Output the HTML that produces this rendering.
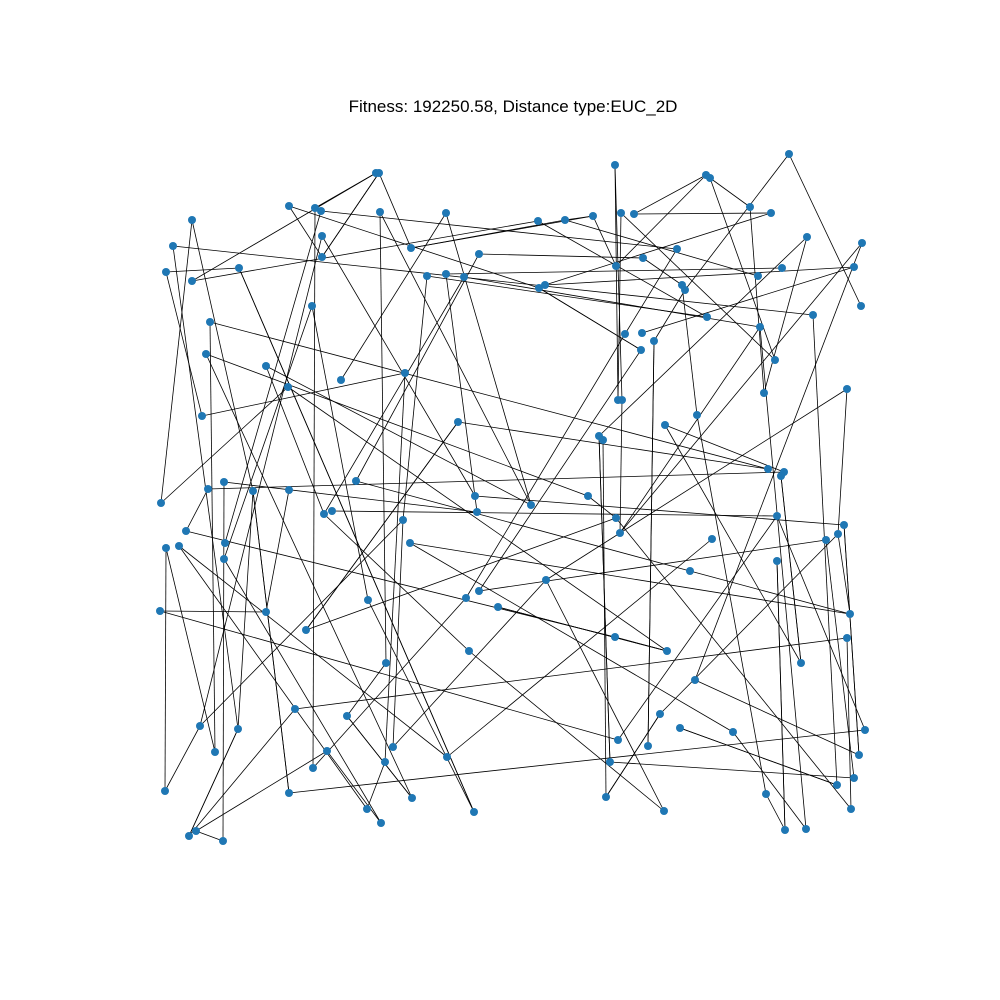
<!DOCTYPE html>
<html>
<head>
<meta charset="utf-8">
<style>
  html,body{margin:0;padding:0;background:#fff;}
  svg{display:block;}
  text{font-family:"Liberation Sans","DejaVu Sans",sans-serif;}
</style>
</head>
<body>
<svg id="chart" width="1000" height="1000" viewBox="0 0 1000 1000">
  <rect x="0" y="0" width="1000" height="1000" fill="#ffffff"></rect>
  <text x="513" y="112" font-size="17" text-anchor="middle" fill="#000">Fitness: 192250.58, Distance type:EUC_2D</text>
  <g id="edges"></g>
  <g id="nodes"></g>
</svg>
<script>
const cityX = [615,789,376,379,706,710,192,289,315,321,380,446,538,565,593,621,634,750,771,173,322,411,479,322,643,677,807,862,166,239,192,427,446,464,539,545,616,682,685,758,782,854,312,707,813,861,210,625,642,654,760,206,266,341,405,288,641,775,618,622,764,847,202,458,697,665,599,603,768,784,781,161,208,224,253,289,356,475,531,588,324,332,403,477,616,620,777,712,844,838,826,186,225,166,179,224,410,690,777,546,479,466,368,498,160,266,850,306,615,667,847,469,386,801,695,295,347,660,200,238,680,733,865,618,648,393,215,327,447,859,313,385,610,854,165,289,837,412,606,766,367,474,664,851,381,785,806,189,196,223];
const cityY = [165,154,173,173,175,178,220,206,208,211,212,213,221,220,216,213,214,207,213,246,236,248,254,257,258,249,237,243,272,268,281,276,274,277,288,285,266,285,290,276,268,267,306,317,315,306,322,334,333,341,327,354,366,380,373,387,350,360,400,400,393,389,416,422,415,425,436,440,469,472,476,503,489,482,491,490,481,496,505,496,514,511,520,512,518,533,516,539,525,534,540,531,543,548,546,559,543,571,561,580,591,598,600,607,611,612,614,630,637,651,638,651,663,663,680,709,716,714,726,729,728,732,730,740,746,747,752,751,757,755,768,762,762,778,791,793,785,798,797,794,809,812,811,809,823,830,829,836,831,841];
const edgeFrom = [0,0,1,1,2,2,3,3,4,4,5,5,7,7,8,10,10,11,11,12,12,13,13,14,15,15,16,17,18,19,19,20,20,21,22,22,23,24,25,25,26,26,27,27,28,28,29,31,31,32,32,33,33,35,36,37,38,41,42,42,44,46,46,47,49,50,50,51,51,52,52,54,54,55,55,56,56,61,61,63,63,64,65,65,66,67,69,70,72,73,74,74,75,76,77,79,80,81,82,83,84,84,85,86,86,87,88,89,90,91,93,94,94,95,96,96,97,98,99,100,101,102,103,104,104,106,107,108,109,110,111,112,113,114,115,116,117,118,119,120,121,122,124,125,127,129,131,132,132,134,135,136,137,138,139,141,142,143,145,147,148,149,9,34,6,6];
const edgeTo   = [58,59,38,45,8,30,23,21,16,36,17,57,23,34,130,112,78,78,53,43,30,14,39,21,58,57,18,60,35,44,119,118,77,13,24,76,3,37,47,9,66,60,114,85,29,62,141,43,82,83,40,80,50,41,14,64,49,48,102,95,136,126,68,101,124,146,85,79,137,78,80,62,131,109,71,100,34,89,99,107,68,139,113,69,132,138,72,113,91,149,119,135,105,97,88,84,111,86,118,73,143,107,59,122,123,128,129,117,133,108,126,140,128,144,121,106,106,145,125,90,130,141,109,105,123,89,63,109,103,115,142,116,70,129,147,137,138,134,147,136,146,135,49,82,144,88,140,133,66,93,74,120,116,117,145,29,99,110,98,119,127,148,92,56,71,74];

const svgNS = "http://www.w3.org/2000/svg";
const xDomain = [0, 1000], yDomain = [0, 1000];
const xRange = [0, 1000], yRange = [0, 1000];
function sx(v){ return xRange[0] + (v - xDomain[0]) / (xDomain[1] - xDomain[0]) * (xRange[1] - xRange[0]); }
function sy(v){ return yRange[0] + (v - yDomain[0]) / (yDomain[1] - yDomain[0]) * (yRange[1] - yRange[0]); }

const edgesG = document.getElementById('edges');
for (let i = 0; i < edgeFrom.length; i++) {
  const a = edgeFrom[i], b = edgeTo[i];
  const ln = document.createElementNS(svgNS, 'line');
  ln.setAttribute('x1', sx(cityX[a]));
  ln.setAttribute('y1', sy(cityY[a]));
  ln.setAttribute('x2', sx(cityX[b]));
  ln.setAttribute('y2', sy(cityY[b]));
  ln.setAttribute('stroke', '#000');
  ln.setAttribute('stroke-width', '0.8');
  
  
  edgesG.appendChild(ln);
}
const nodesG = document.getElementById('nodes');
for (let i = 0; i < cityX.length; i++) {
  const c = document.createElementNS(svgNS, 'circle');
  c.setAttribute('cx', sx(cityX[i]));
  c.setAttribute('cy', sy(cityY[i]));
  c.setAttribute('r', '4');
  c.setAttribute('fill', '#1f77b4');
  
  
  nodesG.appendChild(c);
}
</script>
</body>
</html>
